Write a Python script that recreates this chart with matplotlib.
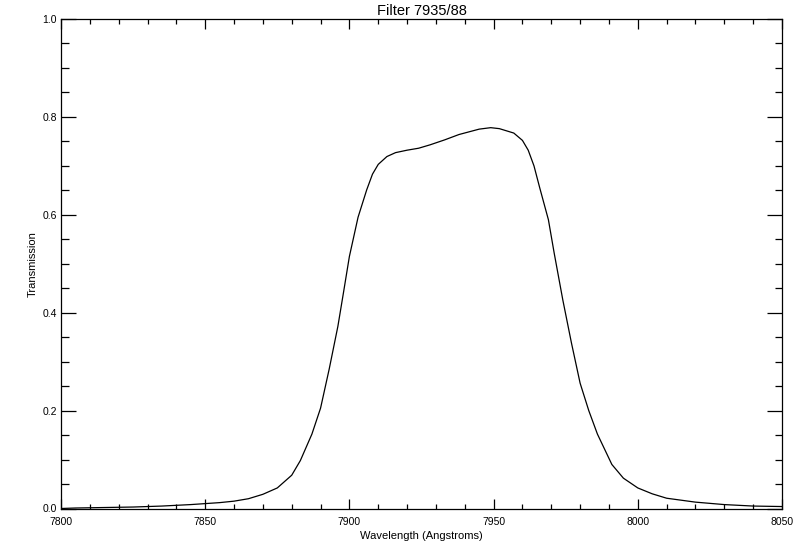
import numpy as np
import matplotlib
matplotlib.use("Agg")
import matplotlib.pyplot as plt
from matplotlib.ticker import MultipleLocator

# Curva de transmision
wavelength = [7800, 7805, 7815, 7825, 7835, 7845, 7850, 7855, 7860, 7865,
              7870, 7875, 7880, 7883, 7887, 7890, 7893, 7896, 7898, 7900,
              7903, 7906, 7908, 7910, 7913, 7916, 7920, 7924, 7928, 7933,
              7938, 7945, 7949, 7952, 7957, 7960, 7962, 7964, 7966, 7969,
              7971, 7974, 7977, 7980, 7983, 7986, 7991, 7995, 8000, 8005,
              8010, 8020, 8030, 8040, 8050]
transmission = [0.000, 0.001, 0.002, 0.003, 0.005, 0.008, 0.010, 0.012, 0.015, 0.020,
                0.029, 0.042, 0.068, 0.098, 0.152, 0.205, 0.285, 0.372, 0.443, 0.515,
                0.595, 0.651, 0.683, 0.703, 0.719, 0.727, 0.732, 0.736, 0.743, 0.753,
                0.764, 0.775, 0.778, 0.776, 0.767, 0.752, 0.732, 0.700, 0.655, 0.590,
                0.522, 0.426, 0.338, 0.256, 0.200, 0.152, 0.090, 0.062, 0.042, 0.030,
                0.021, 0.013, 0.008, 0.005, 0.004]

plt.rcParams['font.family'] = ['Liberation Sans', 'DejaVu Sans']

fig = plt.figure(figsize=(8, 5.5), dpi=100)
ax = fig.add_axes([61 / 800, 1 - 508.5 / 550, 721 / 800, 489.5 / 550])

ax.plot(wavelength, transmission, color='black', linewidth=0.9)

ax.set_xlim(7800, 8050)
ax.set_ylim(0, 1.0)
ax.xaxis.set_major_locator(MultipleLocator(50))
ax.xaxis.set_minor_locator(MultipleLocator(10))
ax.yaxis.set_major_locator(MultipleLocator(0.2))
ax.yaxis.set_minor_locator(MultipleLocator(0.05))
ax.yaxis.set_major_formatter(plt.FormatStrFormatter('%.1f'))

ax.tick_params(axis='both', which='both', direction='in', top=True, right=True,
               labelsize=7.5, width=0.9, color='black')
ax.tick_params(axis='x', which='major', length=7.2, pad=6)
ax.tick_params(axis='x', which='minor', length=3.6)
ax.tick_params(axis='y', which='major', length=10.8, pad=3)
ax.tick_params(axis='y', which='minor', length=5.4)
for s in ax.spines.values():
    s.set_linewidth(0.9)

ax.set_title("Filter 7935/88", fontsize=10.5, pad=3)
ax.set_xlabel("Wavelength (Angstroms)", fontsize=8, labelpad=3)
ax.set_ylabel("Transmission", fontsize=8, labelpad=3)

fig.savefig("out.png", dpi=100, facecolor='white')
